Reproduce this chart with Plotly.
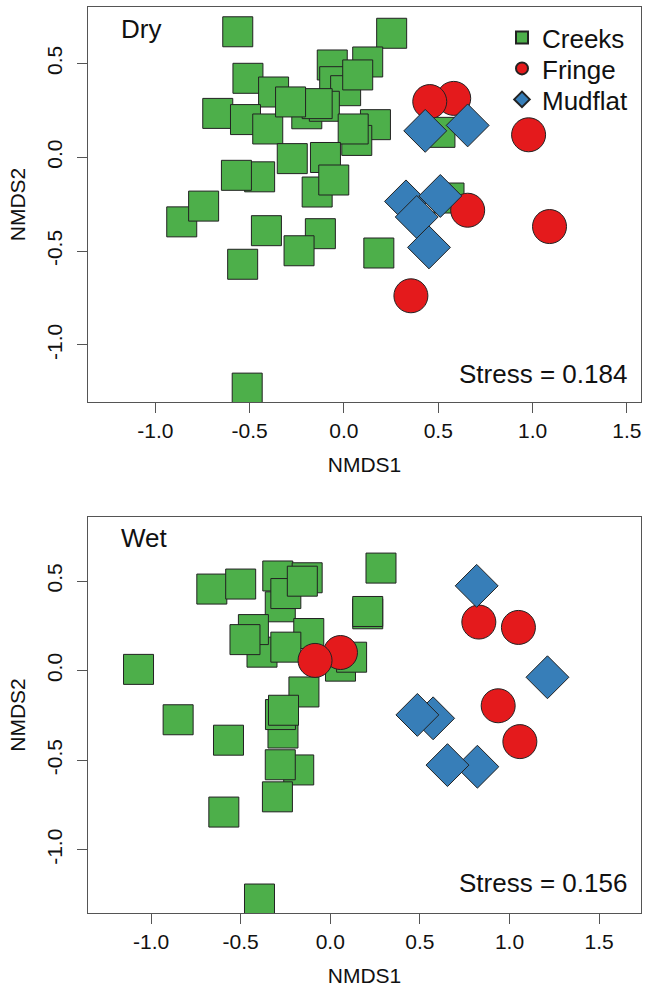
import plotly.graph_objects as go

# ---------------- data ----------------
dry_creeks_x = [-0.563, 0.253, -0.509, -0.373, -0.062, 0.126, -0.049, 0.009, 0.073,
                -0.669, -0.522, -0.404, -0.197, -0.104, -0.142, -0.283, 0.167, 0.068,
                0.049, -0.274, -0.098, -0.447, -0.570, -0.142, -0.054, -0.860, -0.744,
                -0.411, -0.125, -0.238, -0.537, 0.185, -0.513, 0.509, 0.557]
dry_creeks_y = [0.669, 0.661, 0.421, 0.348, 0.492, 0.508, 0.403, 0.355, 0.439,
                0.234, 0.201, 0.151, 0.232, 0.272, 0.286, 0.295, 0.174, 0.090,
                0.151, -0.007, -0.001, -0.104, -0.096, -0.185, -0.121, -0.344, -0.260,
                -0.391, -0.407, -0.498, -0.570, -0.510, -1.230, 0.133, -0.217]
dry_fringe_x = [0.582, 0.455, 0.979, 0.656, 1.090, 0.355]
dry_fringe_y = [0.314, 0.297, 0.120, -0.282, -0.369, -0.738]
dry_mud_x = [0.431, 0.656, 0.329, 0.511, 0.386, 0.451]
dry_mud_y = [0.141, 0.170, -0.235, -0.206, -0.318, -0.480]

wet_creeks_x = [-1.070, -0.661, -0.500, -0.279, -0.293, -0.129, -0.248, -0.156, -0.381,
                -0.429, -0.476, -0.120, -0.248, 0.057, 0.119, 0.283, 0.209, 0.209,
                -0.147, -0.264, -0.278, -0.261, -0.849, -0.568, -0.176, -0.279, -0.295,
                -0.594, -0.395]
wet_creeks_y = [0.007, 0.455, 0.483, 0.356, 0.528, 0.518, 0.430, 0.499, 0.103,
                0.229, 0.173, 0.207, 0.131, 0.025, 0.075, 0.572, 0.317, 0.330,
                -0.119, -0.348, -0.245, -0.221, -0.274, -0.388, -0.554, -0.525, -0.704,
                -0.789, -1.274]
wet_fringe_x = [0.057, -0.085, 0.829, 1.050, 0.937, 1.058]
wet_fringe_y = [0.101, 0.057, 0.271, 0.241, -0.196, -0.396]
wet_mud_x = [0.817, 1.212, 0.574, 0.486, 0.821, 0.654]
wet_mud_y = [0.473, -0.037, -0.266, -0.247, -0.536, -0.527]

groups = ["Creeks", "Fringe", "Mudflat"]
panel_labels = ["Dry", "Wet"]
stress_labels = ["Stress = 0.184", "Stress = 0.156"]
tick_vals_x = [-1.0, -0.5, 0.0, 0.5, 1.0, 1.5]
tick_text_x = ["-1.0", "-0.5", "0.0", "0.5", "1.0", "1.5"]
tick_vals_y = [-1.0, -0.5, 0.0, 0.5]
tick_text_y = ["-1.0", "-0.5", "0.0", "0.5"]

# ---------------- styling ----------------
FONT = "Liberation Sans, Arial, Helvetica, sans-serif"
colors = {"Creeks": "#4DAF4A", "Fringe": "#E41A1C", "Mudflat": "#377EB8"}
symbols = {"Creeks": "square", "Fringe": "circle", "Mudflat": "diamond"}
sizes = {"Creeks": 30, "Fringe": 34, "Mudflat": 33}
legend_ids = {"Creeks": "legend", "Fringe": "legend2", "Mudflat": "legend3"}
AX = "#555555"

fig = go.Figure()

panels = [
    ("x", "y", {"Creeks": (dry_creeks_x, dry_creeks_y),
                "Fringe": (dry_fringe_x, dry_fringe_y),
                "Mudflat": (dry_mud_x, dry_mud_y)}, True),
    ("x2", "y2", {"Creeks": (wet_creeks_x, wet_creeks_y),
                  "Fringe": (wet_fringe_x, wet_fringe_y),
                  "Mudflat": (wet_mud_x, wet_mud_y)}, False),
]

for xa, ya, data, show in panels:
    for g in groups:
        xs, ys = data[g]
        fig.add_trace(go.Scatter(
            x=xs, y=ys, mode="markers", name=g, xaxis=xa, yaxis=ya,
            showlegend=show, legend=legend_ids[g],
            marker=dict(symbol=symbols[g], size=sizes[g], color=colors[g],
                        line=dict(color="#222222", width=1)),
            hoverinfo="skip"))

xdom = [88 / 645, 641 / 645]
common_x = dict(showgrid=False, zeroline=False, showline=True, mirror=True,
                linecolor=AX, linewidth=1.3, ticks="outside", ticklen=10,
                tickcolor=AX, tickwidth=1.3, tickvals=tick_vals_x, ticktext=tick_text_x,
                tickfont=dict(family=FONT, size=21, color="#111"),
                title=dict(text="NMDS1", font=dict(family=FONT, size=21, color="#111"),
                           standoff=15))
common_y = dict(showgrid=False, zeroline=False, showline=True, mirror=True,
                linecolor=AX, linewidth=1.3, ticks="outside", ticklen=10,
                tickcolor=AX, tickwidth=1.3, tickvals=tick_vals_y, ticktext=tick_text_y,
                tickangle=-90, ticklabelstandoff=6,
                tickfont=dict(family=FONT, size=21, color="#111"),
                title=dict(text="NMDS2", font=dict(family=FONT, size=21, color="#111"),
                           standoff=12))

legend_common = dict(font=dict(family=FONT, size=26, color="#111"),
                     bgcolor="rgba(0,0,0,0)", itemsizing="constant",
                     xanchor="left", yanchor="top", x=502 / 645)

fig.update_layout(
    width=645, height=990,
    margin=dict(l=0, r=0, t=0, b=0),
    paper_bgcolor="white", plot_bgcolor="white",
    xaxis=dict(common_x, domain=xdom, range=[-1.357, 1.575], anchor="y"),
    yaxis=dict(common_y, domain=[1 - 402 / 990, 1 - 7 / 990], range=[-1.304, 0.801], anchor="x"),
    xaxis2=dict(common_x, domain=xdom, range=[-1.352, 1.734], anchor="y2"),
    yaxis2=dict(common_y, domain=[1 - 913 / 990, 1 - 517 / 990], range=[-1.352, 0.857], anchor="x2"),
    legend=dict(legend_common, y=1 - 14 / 990),
    legend2=dict(legend_common, y=1 - 45 / 990),
    legend3=dict(legend_common, y=1 - 76 / 990),
    showlegend=True,
)

ann_font = dict(family=FONT, size=26, color="#111")
fig.add_annotation(text=panel_labels[0], x=119 / 645, y=1 - 29 / 990, xref="paper", yref="paper",
                   xanchor="left", yanchor="middle", showarrow=False, font=ann_font)
fig.add_annotation(text=panel_labels[1], x=119 / 645, y=1 - 538 / 990, xref="paper", yref="paper",
                   xanchor="left", yanchor="middle", showarrow=False, font=ann_font)
fig.add_annotation(text=stress_labels[0], x=629 / 645, y=1 - 374 / 990, xref="paper", yref="paper",
                   xanchor="right", yanchor="middle", showarrow=False, font=ann_font)
fig.add_annotation(text=stress_labels[1], x=629 / 645, y=1 - 883 / 990, xref="paper", yref="paper",
                   xanchor="right", yanchor="middle", showarrow=False, font=ann_font)

fig.write_html("out.html", config={"displayModeBar": False},
               post_script="document.body.style.margin='0';")
